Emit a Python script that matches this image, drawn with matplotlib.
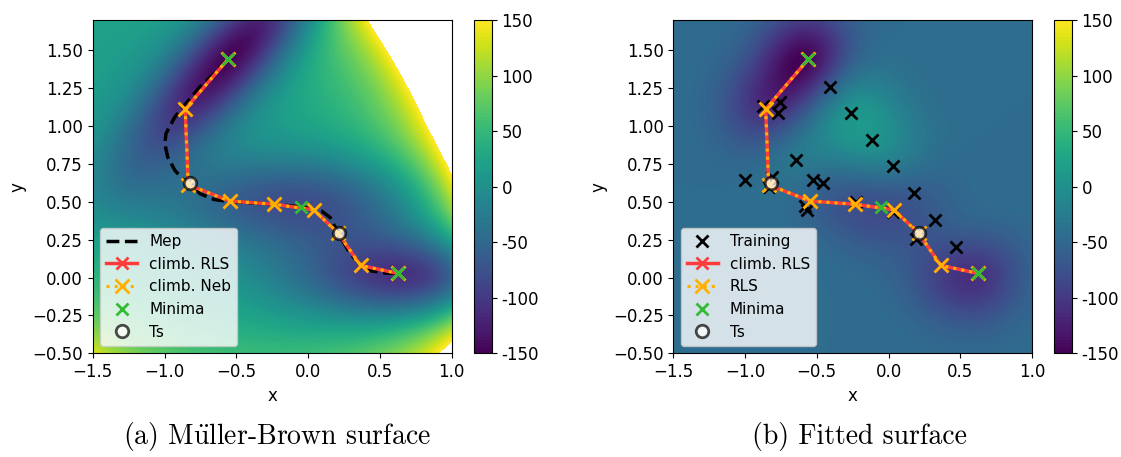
import numpy as np
import matplotlib.pyplot as plt

plt.rcParams['mathtext.fontset'] = 'cm'

# Müller-Brown potential parameters
A = [-200, -100, -170, 15]
a = [-1, -1, -6.5, 0.7]
b = [0, 0, 11, 0.6]
c = [-10, -10, -6.5, 0.7]
x0 = [1, 0, -0.5, -1]
y0 = [0, 0.5, 1.5, 1]

# minimum energy path
mep_x = [-0.558, -0.65, -0.754, -0.85, -0.928, -0.99, -0.998, -0.978, -0.928, -0.866,
         -0.821, -0.754, -0.654, -0.53, -0.236, -0.05, 0.092, 0.154, 0.211, 0.291,
         0.366, 0.44, 0.54, 0.622]
mep_y = [1.442, 1.35, 1.258, 1.15, 1.06, 0.95, 0.884, 0.796, 0.708, 0.642,
         0.624, 0.554, 0.515, 0.50, 0.484, 0.466, 0.44, 0.396, 0.29, 0.16,
         0.082, 0.044, 0.03, 0.027]

# climbing path nodes
path_x = [-0.558, -0.856, -0.835, -0.547, -0.235, 0.038, 0.21, 0.365, 0.623]
path_y = [1.442, 1.112, 0.612, 0.505, 0.484, 0.447, 0.292, 0.08, 0.028]

minima_x = [-0.558, -0.050, 0.623]
minima_y = [1.442, 0.467, 0.028]

ts_x = [-0.822, 0.212]
ts_y = [0.624, 0.293]

train_x = [-0.41, -0.759, -0.771, -0.873, -0.26, -0.118, -0.642, 0.032, -1.001, -0.527,
           -0.46, -0.815, -0.83, -0.58, -0.57, -0.225, 0.03, 0.177, 0.321, 0.189, 0.471]
train_y = [1.26, 1.16, 1.084, 1.13, 1.084, 0.908, 0.779, 0.735, 0.641, 0.645,
           0.621, 0.665, 0.595, 0.475, 0.445, 0.5, 0.434, 0.557, 0.377, 0.257, 0.202]

# level of the fitted surface far from the data
fit_background = -45

cbar_ticks = [-150, -100, -50, 0, 50, 100, 150]


def muller_brown(x, y):
    v = 0.0
    for i in range(4):
        dx = x - x0[i]
        dy = y - y0[i]
        v = v + A[i] * np.exp(a[i] * dx**2 + b[i] * dx * dy + c[i] * dy**2)
    return v


def rbf(p, q, ls=0.22):
    d2 = ((p[:, None, :] - q[None, :, :])**2).sum(-1)
    return np.exp(-0.5 * d2 / ls**2)


gx = np.linspace(-1.5, 1.0, 300)
gy = np.linspace(-0.5, 1.7, 300)
X, Y = np.meshgrid(gx, gy)
Z_true = muller_brown(X, Y)

# fitted surface: kernel regression on the training set + path + minima
pts = np.array(list(zip(train_x + path_x + minima_x, train_y + path_y + minima_y)))
vals = muller_brown(pts[:, 0], pts[:, 1])
K = rbf(pts, pts) + 0.03 * np.eye(len(pts))
alpha = np.linalg.solve(K, vals - fit_background)
grid = np.column_stack([X.ravel(), Y.ravel()])
Z_fit = (fit_background + rbf(grid, pts) @ alpha).reshape(X.shape)
Z_fit = np.clip(Z_fit, -149.9, 149.9)

levels = np.linspace(-150, 150, 101)

fig = plt.figure(figsize=(11.21, 4.57), dpi=100)
ax1 = fig.add_axes([0.0827, 0.2269, 0.3203, 0.7293])
cax1 = fig.add_axes([0.4231, 0.2269, 0.0155, 0.7293])
ax2 = fig.add_axes([0.6006, 0.2269, 0.3200, 0.7293])
cax2 = fig.add_axes([0.9405, 0.2269, 0.0155, 0.7293])

red = '#ff3b3b'
orange = '#ffb000'
green = '#33bb33'

for ax, cax, Z, training in [(ax1, cax1, Z_true, False), (ax2, cax2, Z_fit, True)]:
    cs = ax.contourf(X, Y, Z, levels=levels, cmap='viridis')
    if training:
        ax.plot(train_x, train_y, 'kx', ms=9, mew=2, ls='none', label='Training')
    else:
        ax.plot(mep_x, mep_y, 'k--', lw=2.5, label='Mep')
    ax.plot(path_x, path_y, color=red, lw=2.5, marker='x', ms=9, mew=2, label='climb. RLS')
    ax.plot(path_x, path_y, color=orange, lw=2.2, ls=':', marker='x', ms=10, mew=2,
            label='RLS' if training else 'climb. Neb')
    ax.plot(minima_x, minima_y, 'x', color=green, ms=9, mew=2, ls='none', label='Minima')
    ax.plot(ts_x, ts_y, 'o', color='k', mfc='w', alpha=0.7, ms=9, mew=2, ls='none', label='Ts')
    ax.set_xlim(-1.5, 1.0)
    ax.set_ylim(-0.5, 1.7)
    ax.set_xticks([-1.5, -1.0, -0.5, 0.0, 0.5, 1.0])
    ax.set_yticks([-0.5, -0.25, 0, 0.25, 0.5, 0.75, 1.0, 1.25, 1.5])
    ax.tick_params(labelsize=12)
    ax.set_xlabel('x', fontsize=12)
    ax.set_ylabel('y', fontsize=12)
    ax.legend(loc='lower left', fontsize=11)

    cb = fig.colorbar(cs, cax=cax, ticks=cbar_ticks)
    cb.ax.set_yticklabels([str(t) for t in cbar_ticks])
    cb.ax.tick_params(labelsize=12)

fig.text(0.247, 0.044, r'(a) M$\ddot{\rm u}$ller-Brown surface', ha='center', va='center',
         fontsize=20, family=['cmr10', 'DejaVu Serif'])
fig.text(0.767, 0.044, '(b) Fitted surface', ha='center', va='center',
         fontsize=20, family=['cmr10', 'DejaVu Serif'])

fig.savefig('out.png', dpi=100)
